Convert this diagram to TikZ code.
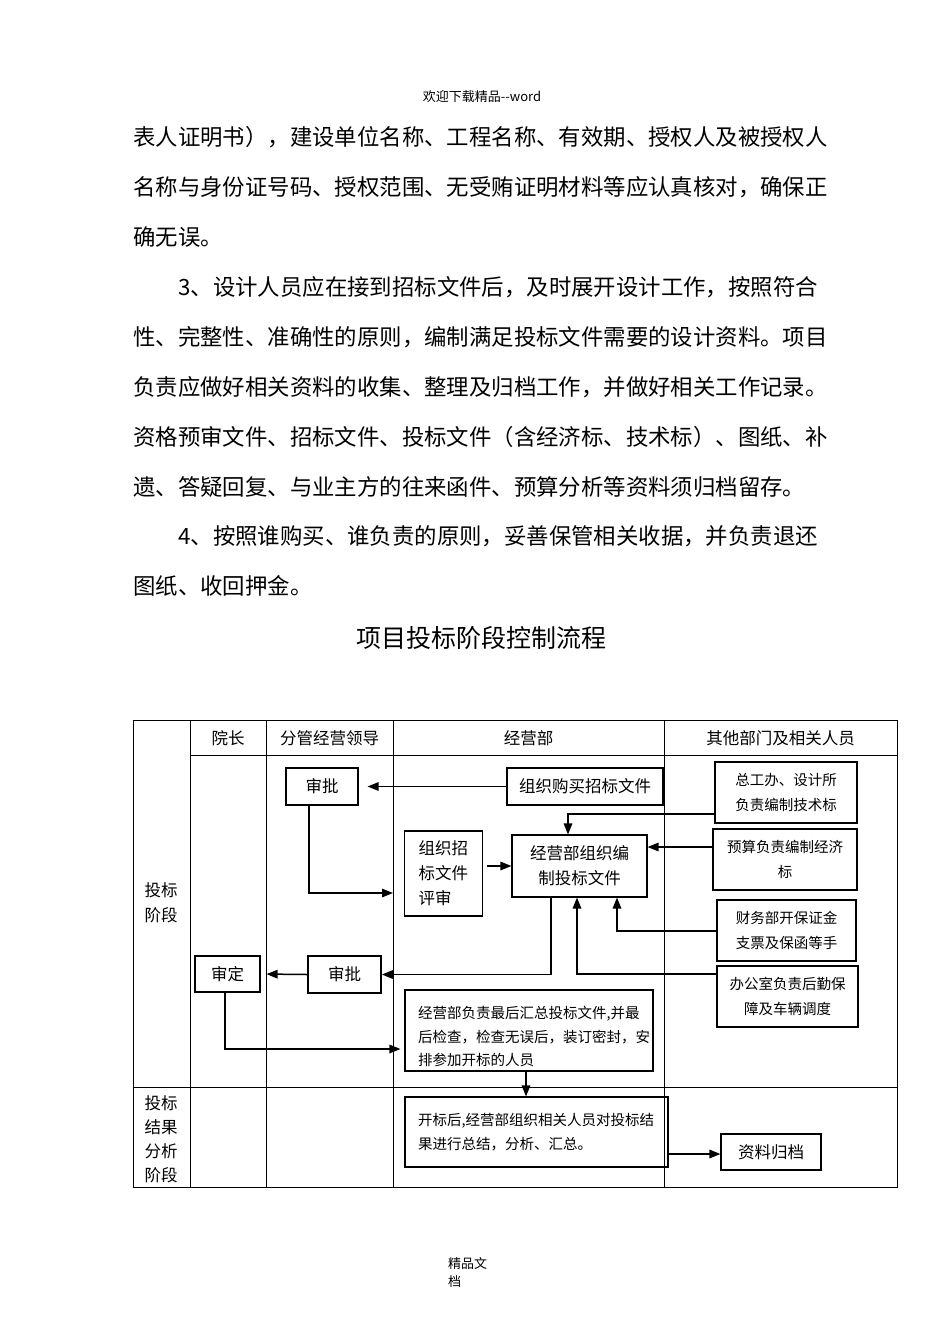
\documentclass[tikz,border=0pt]{standalone}
\usepackage{fontspec}
\setmainfont{Noto Sans CJK SC}
\usetikzlibrary{arrows.meta}
\tikzset{
  box/.style={draw, line width=1.1pt, inner sep=0pt, align=center},
  lbox/.style={draw, line width=1.1pt, inner ysep=0pt, align=left},
  arr/.style={line width=1.5pt, -{Triangle[length=11pt,width=8.5pt]}},
  grid/.style={line width=0.9pt},
  body/.style={anchor=west, inner sep=0pt, font=\fontsize{22.4}{26}\selectfont},
  cell/.style={inner sep=0pt, font=\fontsize{16.5}{25}\selectfont, align=center},
  small/.style={font=\fontsize{14.5}{25}\selectfont},
  mid/.style={font=\fontsize{16.5}{25}\selectfont}
}
\begin{document}
\begin{tikzpicture}[x=1pt,y=-1pt]
\useasboundingbox[fill=white] (0,0) rectangle (950,1344);
% header / body text
\node[inner sep=0pt, font=\fontsize{13}{15}\selectfont] (hdr) at (482,97) {欢迎下载精品-{}-word};
\node[body] (l1) at (133,137) {表人证明书），建设单位名称、工程名称、有效期、授权人及被授权人};
\node[body] (l2) at (133,187) {名称与身份证号码、授权范围、无受贿证明材料等应认真核对，确保正};
\node[body] (l3) at (133,237) {确无误。};
\node[body] (l4) at (178,287) {3、设计人员应在接到招标文件后，及时展开设计工作，按照符合};
\node[body] (l5) at (133,337) {性、完整性、准确性的原则，编制满足投标文件需要的设计资料。项目};
\node[body] (l6) at (133,387) {负责应做好相关资料的收集、整理及归档工作，并做好相关工作记录。};
\node[body] (l7) at (133,437) {资格预审文件、招标文件、投标文件（含经济标、技术标）、图纸、补};
\node[body] (l8) at (133,487) {遗、答疑回复、与业主方的往来函件、预算分析等资料须归档留存。};
\node[body] (l9) at (178,536) {4、按照谁购买、谁负责的原则，妥善保管相关收据，并负责退还};
\node[body] (l10) at (133,586) {图纸、收回押金。};
\node[inner sep=0pt, font=\fontsize{25}{28}\selectfont] (title) at (481,638) {项目投标阶段控制流程};
% footer
\node[anchor=north west, inner sep=0pt, align=left, font=\fontsize{13}{18}\selectfont] (ftr) at (448,1257) {精品文\\档};
% table
\draw[grid] (133,720) rectangle (897,1187);
\draw[grid] (190,755) -- (897,755);
\draw[grid] (133,1087) -- (897,1087);
\foreach \xx in {190,266,393,664} \draw[grid] (\xx,720) -- (\xx,1187);
\node[cell] (h1) at (228,738) {院长};
\node[cell] (h2) at (329.5,738) {分管经营领导};
\node[cell] (h3) at (528.5,738) {经营部};
\node[cell] (h4) at (780.5,738) {其他部门及相关人员};
\node[cell, align=left] (ph1) at (161,903) {投标\\阶段};
\node[cell, align=left, font=\fontsize{16.5}{24}\selectfont] (ph2) at (161,1139) {投标\\结果\\分析\\阶段};
% boxes
\node[box, mid, minimum width=72pt, minimum height=37pt] (sp1) at (322,786.5) {审批};
\node[box, mid, minimum width=156pt, minimum height=37pt] (buy) at (585,786.5) {组织购买招标文件};
\node[lbox, mid, inner xsep=14pt, text width=50pt, minimum height=85pt] (rev) at (443.5,873.5) {组织招\\标文件\\评审};
\node[box, mid, minimum width=135pt, minimum height=62pt] (bian) at (579.5,866) {经营部组织编\\制投标文件};
\node[box, small, minimum width=142pt, minimum height=61pt] (zg) at (786,792.5) {总工办、设计所\\负责编制技术标};
\node[box, small, minimum width=144pt, minimum height=61pt] (ys) at (785,859.5) {预算负责编制经济\\标};
\node[box, small, minimum width=139pt, minimum height=61pt] (cw) at (786.5,930.5) {财务部开保证金\\支票及保函等手};
\node[box, small, minimum width=141pt, minimum height=61pt] (bg) at (787.5,996.5) {办公室负责后勤保\\障及车辆调度};
\node[box, mid, line width=1.8pt, minimum width=73pt, minimum height=37pt] (sp2) at (344.5,974.5) {审批};
\node[box, mid, minimum width=65pt, minimum height=36pt] (sd) at (227.5,974) {审定};
\node[draw, line width=1.1pt, minimum width=248pt, minimum height=81pt] (hz) at (529,1030.5) {};
\node[anchor=west, inner sep=0pt, align=left, font=\fontsize{14.5}{23.5}\selectfont] (hzt) at (418,1036.5) {经营部负责最后汇总投标文件,并最\\后检查，检查无误后，装订密封，安\\排参加开标的人员};
\node[lbox, small, font=\fontsize{14.5}{24}\selectfont, inner xsep=13pt, text width=237pt, minimum height=70pt] (kb) at (536.5,1132) {开标后,经营部组织相关人员对投标结\\果进行总结，分析、汇总。};
\node[box, mid, minimum width=100pt, minimum height=36pt] (zl) at (771,1152) {资料归档};
% connectors
\coordinate (p1) at (393,893);
\draw[arr, shorten >=9pt] (buy.west) -- (sp1.east);
\draw[arr] ([xshift=-13pt]sp1.south) |- (p1);
\draw[arr] ([xshift=4pt]rev.east |- bian.west) -- (bian.west);
\draw[arr] (zg.west |- 0,814) -| ([xshift=-11.5pt]bian.north);
\draw[arr] (ys.west |- 0,847) -- (bian.east |- 0,847);
\draw[arr] (cw.west |- 0,931) -| ([xshift=37.5pt]bian.south);
\draw[arr] (bg.west |- 0,974) -| ([xshift=-2.5pt]bian.south);
\draw[arr] ([xshift=-28.5pt]bian.south) |- (sp2.east);
\draw[arr, shorten >=6pt] (sp2.west) -- (sd.east);
\draw[arr, shorten >=4pt] ([xshift=-2.5pt]sd.south) |- (hz.west |- 0,1049);
\draw[arr] ([xshift=-3pt]hz.south) -- ([xshift=-3pt]hz.south |- kb.north);
\draw[arr] (kb.east |- 0,1154) -- (zl.west |- 0,1154);
\end{tikzpicture}
\end{document}
